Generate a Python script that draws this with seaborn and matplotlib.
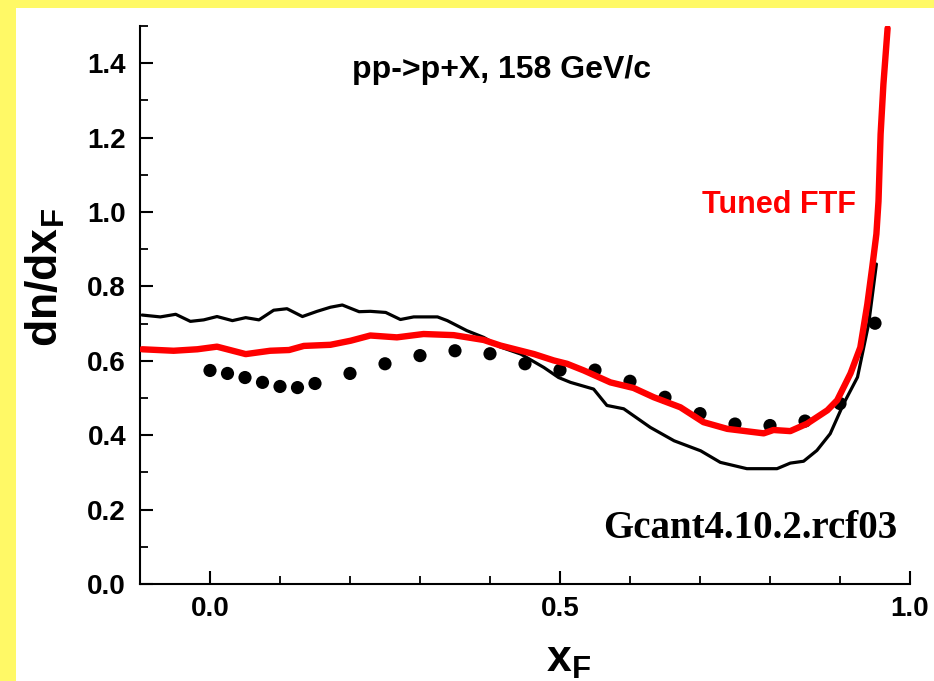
import matplotlib
matplotlib.use("Agg")
import matplotlib.pyplot as plt
from matplotlib.patches import Rectangle
from matplotlib.ticker import MultipleLocator
import seaborn as sns
import pandas as pd

# ---- data ----
black_x = [-0.097, -0.071, -0.049, -0.028, -0.009, 0.010, 0.032, 0.051, 0.070, 0.091, 0.110,
           0.132, 0.153, 0.172, 0.189, 0.213, 0.229, 0.251, 0.272, 0.291, 0.325, 0.339, 0.367,
           0.391, 0.415, 0.444, 0.477, 0.498, 0.515, 0.548, 0.567, 0.591, 0.629, 0.663, 0.701,
           0.729, 0.767, 0.810, 0.829, 0.848, 0.867, 0.886, 0.905, 0.925, 0.934, 0.941, 0.952]
black_y = [0.723, 0.718, 0.725, 0.706, 0.710, 0.719, 0.708, 0.716, 0.710, 0.736, 0.740,
           0.719, 0.733, 0.744, 0.750, 0.732, 0.733, 0.730, 0.711, 0.718, 0.718, 0.708, 0.681,
           0.663, 0.637, 0.618, 0.582, 0.555, 0.542, 0.524, 0.480, 0.471, 0.421, 0.385, 0.358,
           0.327, 0.310, 0.310, 0.325, 0.330, 0.359, 0.404, 0.484, 0.556, 0.637, 0.700, 0.860]

red_x = [-0.097, -0.052, -0.018, 0.010, 0.051, 0.086, 0.113, 0.134, 0.172, 0.201, 0.229,
         0.267, 0.305, 0.348, 0.391, 0.415, 0.463, 0.491, 0.510, 0.534, 0.572, 0.605, 0.634,
         0.672, 0.705, 0.739, 0.791, 0.805, 0.829, 0.853, 0.882, 0.896, 0.915, 0.929, 0.939,
         0.946, 0.952, 0.955, 0.958, 0.962, 0.968]
red_y = [0.631, 0.627, 0.631, 0.638, 0.618, 0.627, 0.629, 0.640, 0.643, 0.654, 0.668,
         0.663, 0.672, 0.669, 0.656, 0.641, 0.618, 0.601, 0.592, 0.574, 0.542, 0.527, 0.502,
         0.475, 0.435, 0.417, 0.405, 0.414, 0.411, 0.431, 0.467, 0.494, 0.566, 0.636, 0.752,
         0.851, 0.941, 1.029, 1.209, 1.343, 1.494]

dot_x = [0.0, 0.025, 0.05, 0.075, 0.1, 0.125, 0.15, 0.2, 0.25, 0.3, 0.35, 0.4, 0.45,
         0.5, 0.55, 0.6, 0.65, 0.7, 0.75, 0.8, 0.85, 0.9, 0.95]
dot_y = [0.574, 0.566, 0.555, 0.542, 0.531, 0.528, 0.539, 0.566, 0.592, 0.614, 0.627, 0.619,
         0.592, 0.575, 0.575, 0.545, 0.502, 0.458, 0.430, 0.426, 0.438, 0.485, 0.701]

x_ticks = [0.0, 0.5, 1.0]
x_ticklabels = ["0.0", "0.5", "1.0"]
y_ticks = [0.0, 0.2, 0.4, 0.6, 0.8, 1.0, 1.2, 1.4]
y_ticklabels = ["0.0", "0.2", "0.4", "0.6", "0.8", "1.0", "1.2", "1.4"]

title_text = "pp->p+X, 158 GeV/c"
model_label = "Tuned FTF"
version_text = "Gcant4.10.2.rcf03"

# ---- figure ----
sns.set_style("ticks")
plt.rcParams["font.family"] = ["Liberation Sans", "DejaVu Sans"]
plt.rcParams["text.color"] = "black"
plt.rcParams["axes.labelcolor"] = "black"
plt.rcParams["mathtext.fontset"] = "custom"
plt.rcParams["mathtext.rm"] = "Liberation Sans"
plt.rcParams["mathtext.it"] = "Liberation Sans:italic"
plt.rcParams["mathtext.bf"] = "Liberation Sans:bold"

W, H = 934, 681
fig = plt.figure(figsize=(W / 100, H / 100), dpi=100)
fig.patch.set_facecolor("#FFF966")
panel = Rectangle((16 / W, 0), 1 - 16 / W, 1 - 8 / H, transform=fig.transFigure,
                  facecolor="white", edgecolor="none", zorder=-10)
fig.add_artist(panel)

ax = fig.add_axes([140 / W, 1 - 584 / H, (910 - 140) / W, (584 - 26) / H])
ax.set_zorder(5)
ax.set_facecolor("none")

df_black = pd.DataFrame({"x": black_x, "y": black_y})
df_red = pd.DataFrame({"x": red_x, "y": red_y})
df_dots = pd.DataFrame({"x": dot_x, "y": dot_y})

sns.scatterplot(data=df_dots, x="x", y="y", ax=ax, color="black", s=90, edgecolor="none", zorder=2)
sns.lineplot(data=df_black, x="x", y="y", ax=ax, color="black", lw=2.3, sort=False, zorder=3)
sns.lineplot(data=df_red, x="x", y="y", ax=ax, color="#FF0000", lw=4.6, sort=False, zorder=4)

ax.set_xlim(-0.1, 1.0)
ax.set_ylim(0.0, 1.5)
ax.set_xticks(x_ticks)
ax.set_xticklabels(x_ticklabels)
ax.set_yticks(y_ticks)
ax.set_yticklabels(y_ticklabels)
ax.xaxis.set_minor_locator(MultipleLocator(0.1))
ax.yaxis.set_minor_locator(MultipleLocator(0.1))

for s in ["top", "right"]:
    ax.spines[s].set_visible(False)
for s in ["left", "bottom"]:
    ax.spines[s].set_linewidth(1.5)
    ax.spines[s].set_color("black")

ax.tick_params(axis="both", which="major", direction="in", length=9.5, width=1.5,
               labelsize=20, colors="black")
ax.tick_params(axis="y", which="major", pad=10)
ax.tick_params(axis="x", which="major", pad=9)
ax.tick_params(axis="both", which="minor", direction="in", length=6, width=1.3, colors="black")
for lab in ax.get_xticklabels() + ax.get_yticklabels():
    lab.set_fontweight("bold")

ax.set_xlabel(r"$\mathbf{x_F}$", fontsize=32, color="black")
ax.xaxis.set_label_coords(0.556, -0.101)
ax.set_ylabel(r"$\mathbf{dn/dx_F}$", fontsize=32, color="black")
ax.yaxis.set_label_coords(-0.095, 0.55)

ax.text(0.4695, 0.921, title_text, transform=ax.transAxes, fontsize=23, fontweight="bold",
        color="black", ha="center", va="center")
ax.text(0.8305, 0.679, model_label, transform=ax.transAxes, fontsize=22, fontweight="bold",
        color="#FF0000", ha="center", va="center")
ax.text(0.983, 0.0986, version_text, transform=ax.transAxes, fontsize=28, fontweight="bold",
        color="black", family=["Liberation Serif", "DejaVu Serif"], ha="right", va="center")

fig.savefig("out.png", dpi=100, facecolor=fig.get_facecolor())
